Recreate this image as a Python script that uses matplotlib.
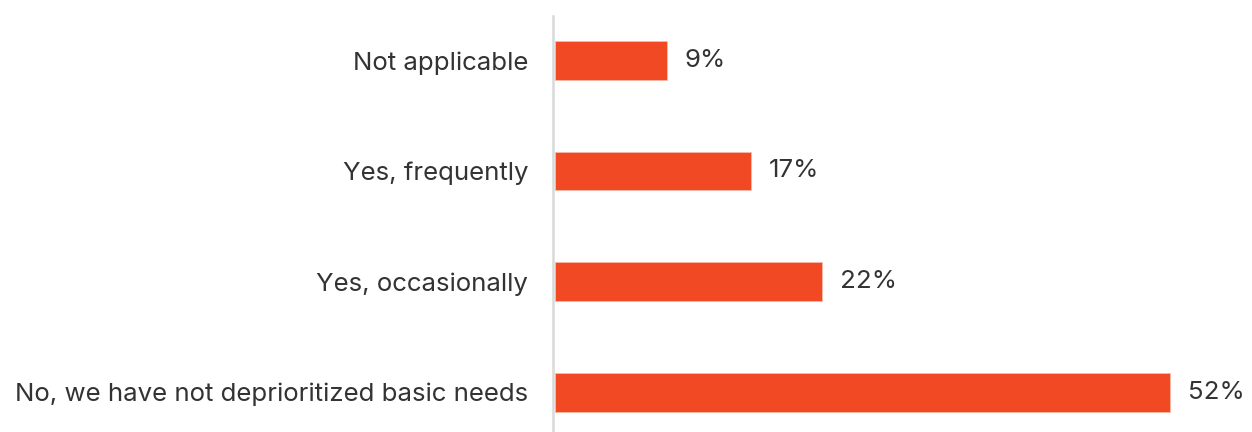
import matplotlib
matplotlib.use("Agg")
import matplotlib.pyplot as plt

categories = ["Not applicable", "Yes, frequently", "Yes, occasionally",
              "No, we have not deprioritized basic needs"]
values = [9.5, 16.6, 22.6, 52.0]
labels = ["9%", "17%", "22%", "52%"]

plt.rcParams['font.family'] = ['Inter', 'DejaVu Sans']
W, H = 1252, 432
fig = plt.figure(figsize=(W/100, H/100), dpi=100)
ax = fig.add_axes([555/W, 0, 1 - 555/W, 1 - 16/H])

bar_color = "#F04923"
text_color = "#333333"
FS = 18.6
y = list(range(len(categories)))
bars = ax.barh(y, values, height=0.35, color=bar_color, edgecolor="#F8B9A6", linewidth=0.6)
for b, lab in zip(bars, labels):
    ax.annotate(lab, (b.get_width(), b.get_y() + b.get_height()/2),
                xytext=(12.5, 0), textcoords="offset points",
                va="center", ha="left", fontsize=FS, color=text_color)

ax.set_yticks(y)
ax.tick_params(axis='y', length=0, pad=18, labelsize=FS, labelcolor=text_color)
ax.set_yticklabels(categories)
ax.set_xticks([])
ax.set_xlim(0, 58.9)
ax.set_ylim(3.36, -0.40)
for s in ["top", "right", "bottom"]:
    ax.spines[s].set_visible(False)
ax.spines["left"].set_color("#D9D9D9")
ax.spines["left"].set_linewidth(1.8)
ax.spines["left"].set_position(("data", -0.15))

fig.savefig("out.png", dpi=100)
